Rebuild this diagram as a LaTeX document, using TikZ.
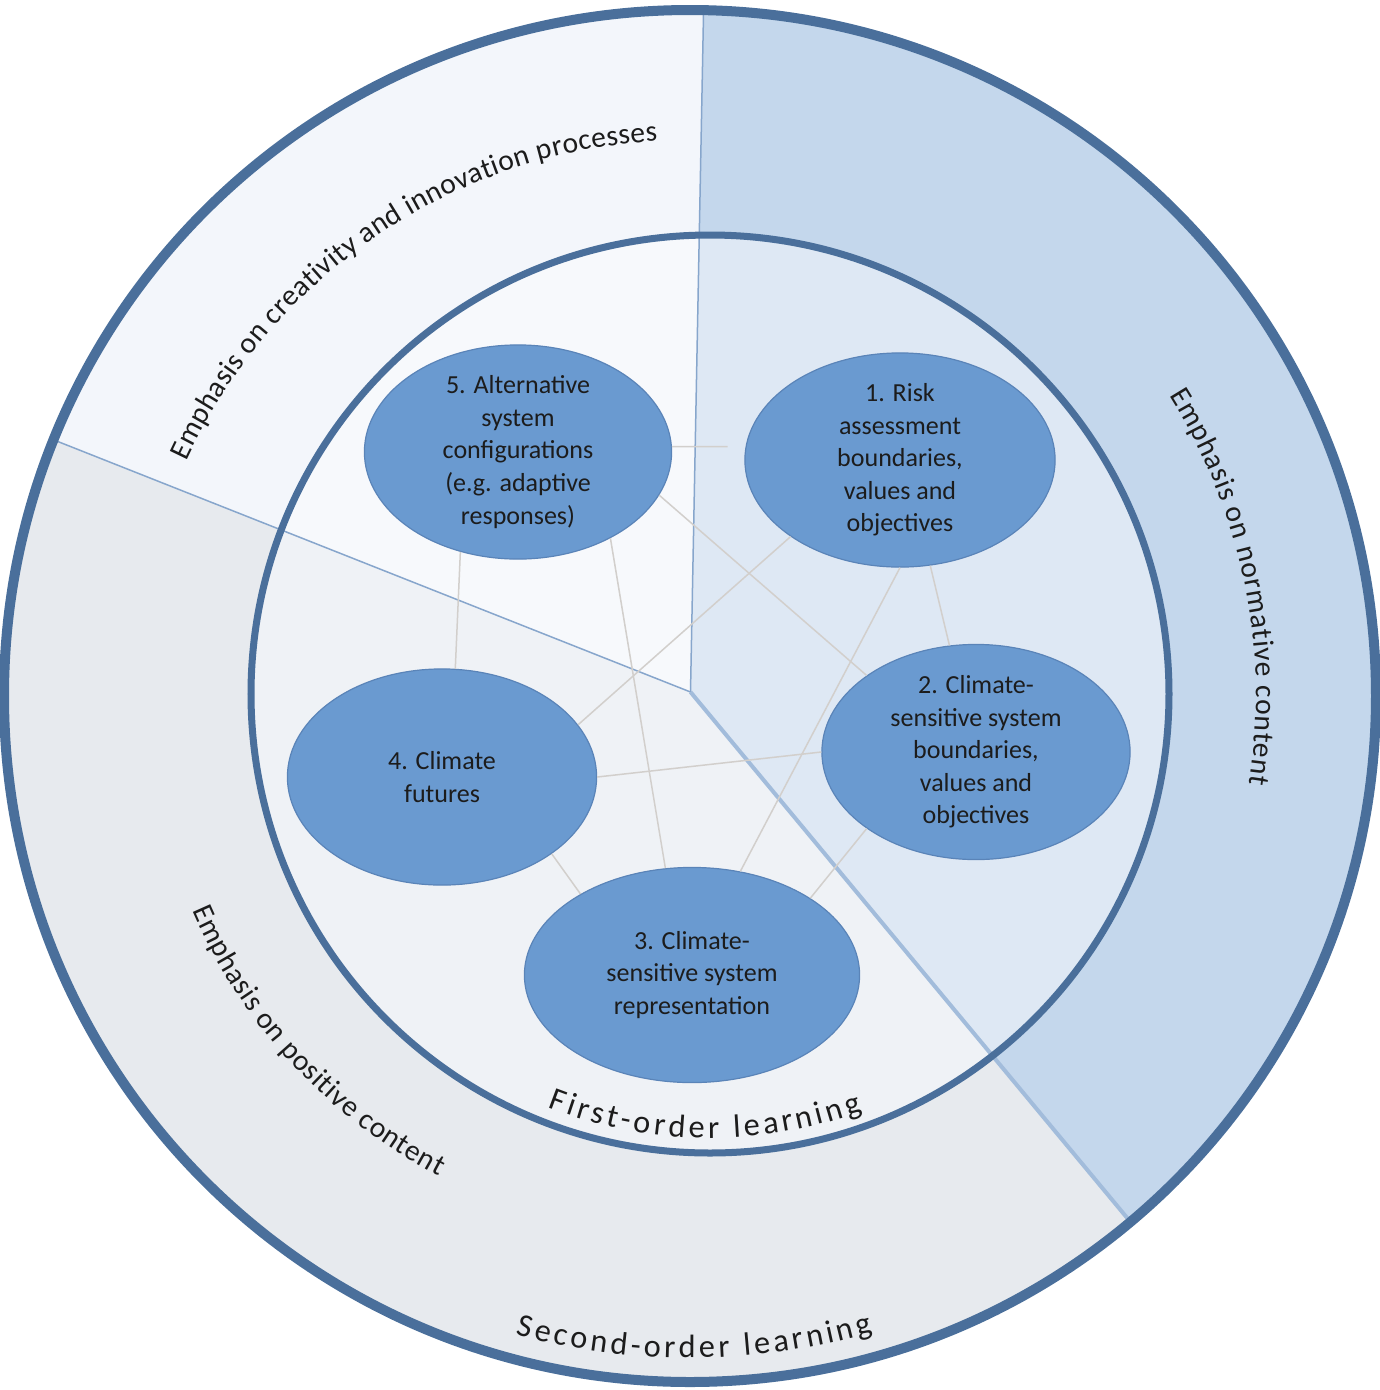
\documentclass[tikz,border=0pt]{standalone}
\usepackage{fontspec}
\setmainfont{Carlito}
\usetikzlibrary{shapes.geometric}
\usetikzlibrary{decorations.text}

\definecolor{ringline}{HTML}{4A6F9B}
\definecolor{bubblefill}{HTML}{6A9AD0}
\definecolor{bubbleline}{HTML}{5A84B8}
\definecolor{linkgray}{HTML}{D2CFCC}
\definecolor{spokeblue}{HTML}{87A6CC}
\definecolor{spokelight}{HTML}{A2BCDB}
\definecolor{outerTL}{HTML}{F3F6FB}
\definecolor{outerR}{HTML}{C4D7EC}
\definecolor{outerBL}{HTML}{E7EAEE}
\definecolor{innerTL}{HTML}{F7F9FC}
\definecolor{innerR}{HTML}{DEE8F4}
\definecolor{innerBL}{HTML}{EFF2F6}
\definecolor{ink}{HTML}{1C1C1C}

\newcommand{\bubblefont}{\fontsize{7.4pt}{9.25pt}\selectfont}
\newcommand{\ringfont}{\fontsize{8.4pt}{10pt}\selectfont\color{ink}}
\newcommand{\orderfont}{\fontsize{9.2pt}{11pt}\selectfont\color{ink}}

\begin{document}
\begin{tikzpicture}[x=0.01cm, y=0.01cm,
  bubble/.style={ellipse, draw=bubbleline, line width=0.012cm, fill=bubblefill,
    inner xsep=0pt, inner ysep=-0.1cm, align=center, font=\bubblefont, text=ink},
  link/.style={draw=linkgray, line width=0.015cm},
  ringtext/.style={decorate, decoration={text along path, text align=fit to path, text={#1}}}]
\useasboundingbox (0,0) rectangle (1380,-1390);

% centres of the two rings and of the three sectors
\coordinate (C) at (690,-696);
\coordinate (Ci) at (710,-694);
\coordinate (hub) at (690.5,-692);
\coordinate (farN) at ([shift={(88.9:1500)}]hub);
\coordinate (farW) at ([shift={(158.4:1500)}]hub);
\coordinate (farS) at ([shift={(234:1500)}]hub);
\coordinate (farSE) at ([shift={(-50.3:1500)}]hub);
\coordinate (farE) at ([shift={(19:1500)}]hub);

% second-order ring
\begin{scope}
\clip (C) circle[radius=686];
\fill[outerTL] (hub) -- (farN) -- (farW) -- cycle;
\fill[outerR] (hub) -- (farN) -- (farE) -- (farSE) -- cycle;
\fill[outerBL] (hub) -- (farW) -- (farS) -- (farSE) -- cycle;
\end{scope}

% first-order disc
\begin{scope}
\clip (Ci) circle[radius=459];
\fill[innerTL] (hub) -- (farN) -- (farW) -- cycle;
\fill[innerR] (hub) -- (farN) -- (farE) -- (farSE) -- cycle;
\fill[innerBL] (hub) -- (farW) -- (farS) -- (farSE) -- cycle;
\end{scope}

% sector borders
\begin{scope}
\clip (C) circle[radius=686];
\draw[spokeblue, line width=0.015cm] (hub) -- (farN);
\draw[spokeblue, line width=0.015cm] (hub) -- (farW);
\draw[spokelight, line width=0.04cm] (hub) -- (farSE);
\end{scope}

\draw[ringline, line width=0.1cm] (C) circle[radius=686];
\draw[ringline, line width=0.07cm] (Ci) circle[radius=459];

% the five steps
\node[bubble, minimum width=3.1cm, minimum height=2.14cm] (risk) at (900,-460) {1. Risk\\assessment\\boundaries,\\values and\\objectives};
\node[bubble, minimum width=3.08cm, minimum height=2.15cm] (boundaries) at (976,-752) {2. Climate-\\sensitive system\\boundaries,\\values and\\objectives};
\node[bubble, minimum width=3.35cm, minimum height=2.15cm] (represent) at (692,-975) {3. Climate-\\sensitive system\\representation};
\node[bubble, minimum width=3.09cm, minimum height=2.16cm] (futures) at (442,-777) {4. Climate\\futures};
\node[bubble, minimum width=3.07cm, minimum height=2.14cm] (configs) at (518,-452) {5. Alternative\\system\\configurations\\(e.g. adaptive\\responses)};

% links between the steps
\draw[link, shorten >=0.18cm] (configs.2) -- (risk.175);
\draw[link] (configs.-17.6) -- (boundaries.145.6);
\draw[link] (risk.215.5) -- (futures.21.7);
\draw[link] (risk.-90) -- (represent.65.4);
\draw[link] (risk.-74.3) -- (boundaries.104.9);
\draw[link] (configs.240.8) -- (futures.83);
\draw[link] (configs.-43) -- (represent.104);
\draw[link] (futures.0.7) -- (boundaries.180);
\draw[link] (futures.-35.8) -- (represent.144.3);
\draw[link] (boundaries.215) -- (represent.33);

% curved labels
\path[ringtext={|\ringfont|Emphasis on creativity and innovation processes}] ([shift={(155:556)}]C) arc[start angle=155, end angle=93.4, radius=556];
\path[ringtext={|\ringfont|Emphasis on normative content}] ([shift={(32.1:566)}]C) arc[start angle=32.1, end angle=-9, radius=566];
\path[ringtext={|\ringfont|Emphasis on positive content}] ([shift={(203.3:542)}]C) arc[start angle=203.3, end angle=242.4, radius=542];
\path[ringtext={|\orderfont|Second-order learning}] ([shift={(254.7:662)}]C) arc[start angle=254.7, end angle=286.1, radius=662];
\path[ringtext={|\orderfont|First-order learning}] ([shift={(248.6:444)}]Ci) arc[start angle=248.6, end angle=290.1, radius=444];
\end{tikzpicture}
\end{document}
